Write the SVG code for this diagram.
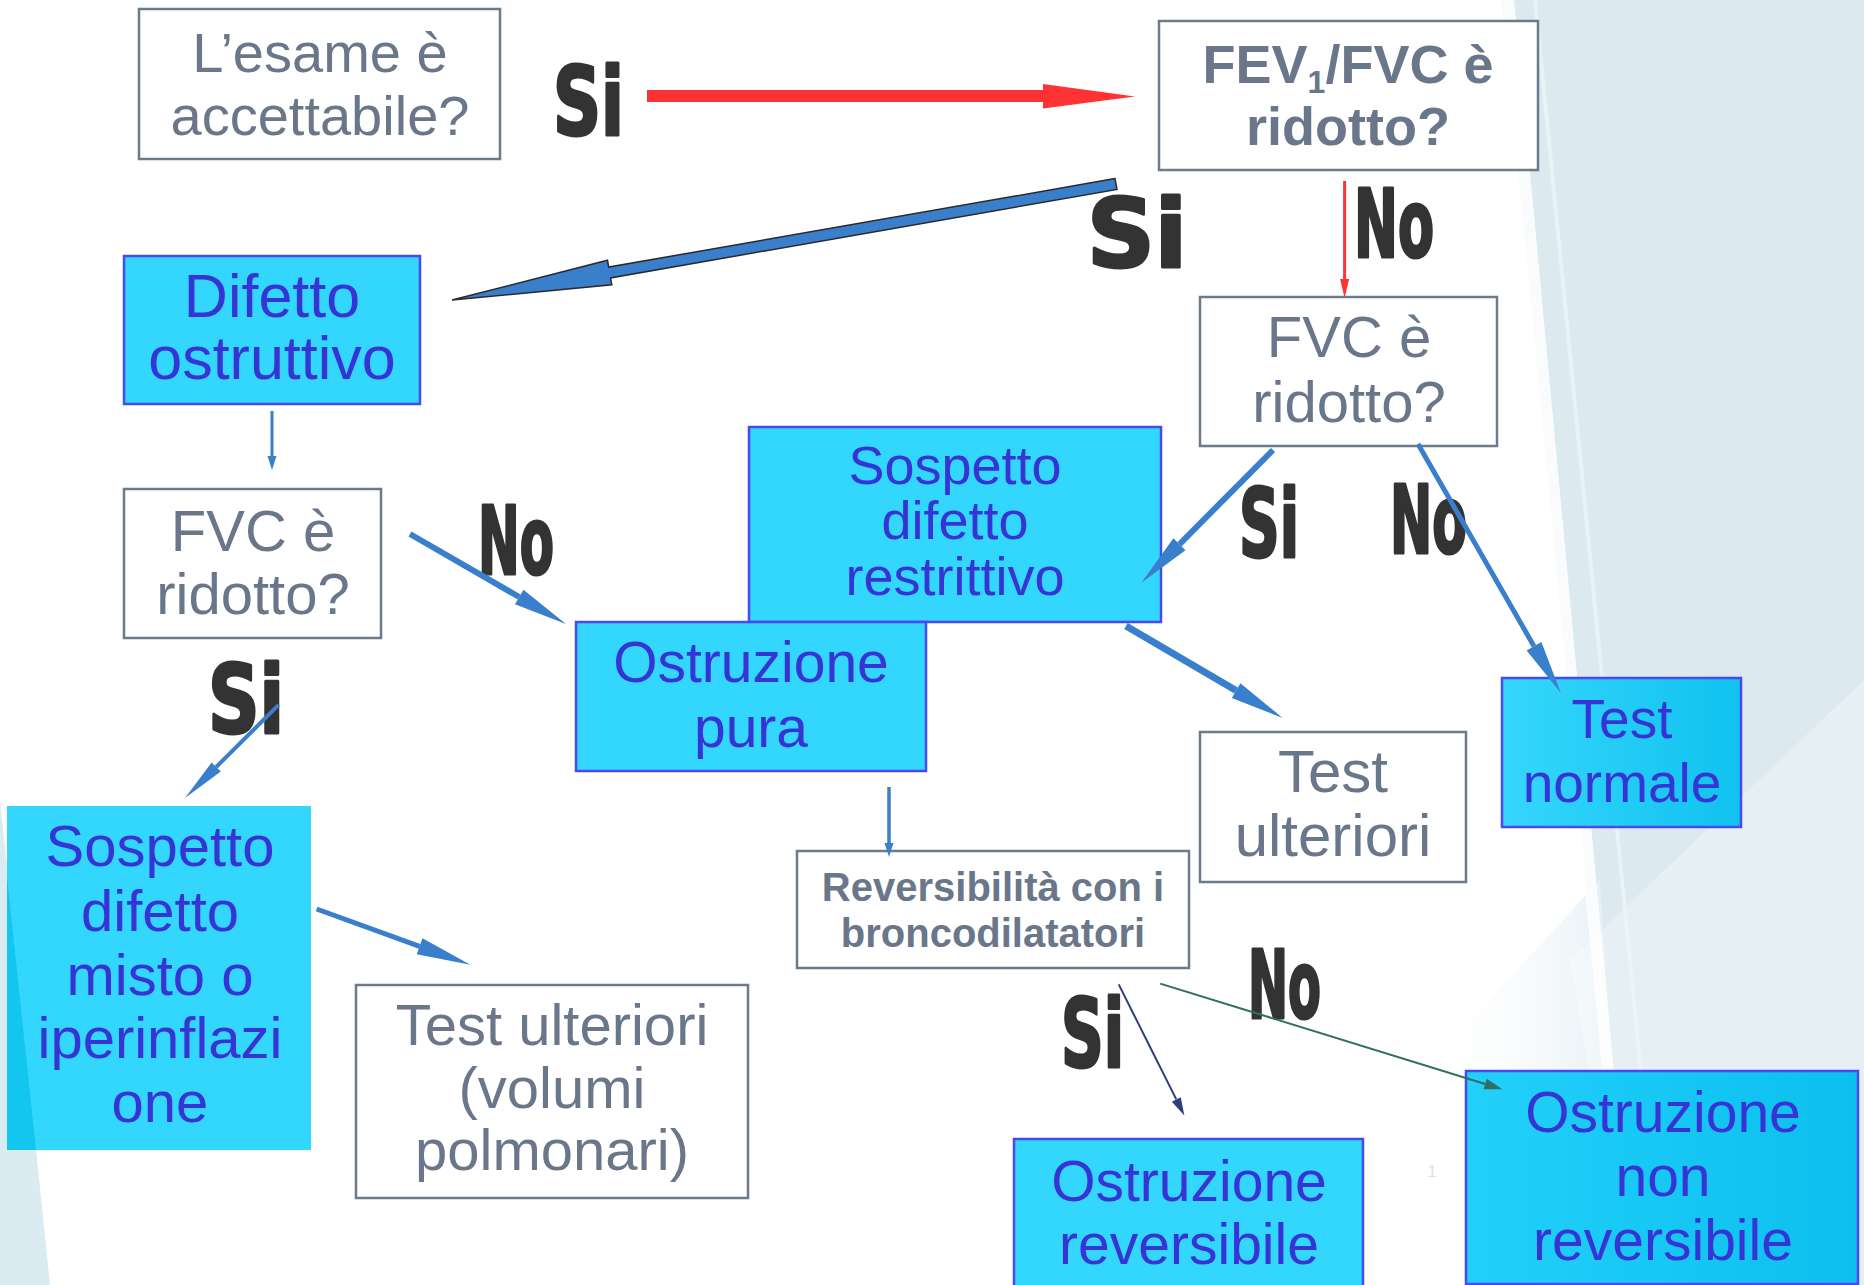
<svg xmlns="http://www.w3.org/2000/svg" width="1864" height="1285" viewBox="0 0 1864 1285">
<defs>
<style>
.box-g{fill:#ffffff;stroke:#6d7a8c;stroke-width:2.5}
.box-c{fill:#33d6fc;stroke:#4a48f0;stroke-width:2.5}
.t-g{font-family:"Liberation Sans",Arial,sans-serif;fill:#6a7689;text-anchor:middle}
.t-c{font-family:"Liberation Sans",Arial,sans-serif;fill:#3734d6;text-anchor:middle}
.lbl{font-family:"Liberation Sans Narrow","DejaVu Sans Condensed","Liberation Sans",sans-serif;font-weight:bold;font-size:95px;fill:#333333;stroke:#333333;stroke-width:3;stroke-linejoin:round}
.ln-b{fill:none;stroke:#3a7fcc}
</style>
<linearGradient id="gR" x1="0" y1="0" x2="1" y2="0">
<stop offset="0" stop-color="#36d6fd"/>
<stop offset="1" stop-color="#10c2ee"/>
</linearGradient>
<linearGradient id="gR2" x1="0" y1="0" x2="1" y2="0">
<stop offset="0" stop-color="#22d0fa"/>
<stop offset="1" stop-color="#0cbfee"/>
</linearGradient>
<linearGradient id="gPale" x1="0" y1="0" x2="1" y2="0">
<stop offset="0" stop-color="#ffffff" stop-opacity="0"/>
<stop offset="1" stop-color="#e4eff4"/>
</linearGradient>
<marker id="mBig" markerUnits="userSpaceOnUse" markerWidth="54" markerHeight="17" refX="0" refY="8.5" orient="auto" overflow="visible">
<path d="M0,0 L54,8.5 L0,17 Z" fill="#3a7fcc"/>
</marker>
<marker id="mMid" markerUnits="userSpaceOnUse" markerWidth="44" markerHeight="13" refX="0" refY="6.5" orient="auto" overflow="visible">
<path d="M0,0 L44,6.5 L0,13 Z" fill="#3a7fcc"/>
</marker>
<marker id="mSmall" markerUnits="userSpaceOnUse" markerWidth="14" markerHeight="9" refX="0" refY="4.5" orient="auto" overflow="visible">
<path d="M0,0 L14,4.5 L0,9 Z" fill="#3a7fcc"/>
</marker>
<marker id="mRed" markerUnits="userSpaceOnUse" markerWidth="19" markerHeight="9" refX="0" refY="4.5" orient="auto" overflow="visible">
<path d="M0,0 L19,4.5 L0,9 Z" fill="#ff3333"/>
</marker>
<marker id="mNavy" markerUnits="userSpaceOnUse" markerWidth="18" markerHeight="10" refX="0" refY="5" orient="auto" overflow="visible">
<path d="M0,0 L18,5 L0,10 Z" fill="#2e3f80"/>
</marker>
<marker id="mTeal" markerUnits="userSpaceOnUse" markerWidth="18" markerHeight="11" refX="0" refY="5.5" orient="auto" overflow="visible">
<path d="M0,0 L18,5.5 L0,11 Z" fill="#2f6f66"/>
</marker>
</defs>

<rect x="0" y="0" width="1864" height="1285" fill="#ffffff"/>
<g id="background">
<polygon points="1502,0 1864,0 1864,1285 1625,1285" fill="#dce9ee"/>
<polygon points="1420,1075 1600,880 1625,1285 1420,1285" fill="url(#gPale)"/>
<polygon points="1570,960 1864,680 1864,1285 1625,1285" fill="#ffffff" opacity="0.3"/>
<line x1="1508" y1="0" x2="1628" y2="1285" stroke="#ffffff" stroke-width="12" opacity="0.85"/>
<line x1="1535" y1="0" x2="1662" y2="1285" stroke="#f3f8fa" stroke-width="4" opacity="0.6"/>
<polygon points="0,800 50,1285 0,1285" fill="#dbebf2"/>
</g>

<g id="node-esame">
<rect class="box-g" x="139" y="9" width="361" height="150"/>
<text class="t-g" font-size="56" x="320" y="72">L’esame è</text>
<text class="t-g" font-size="56" x="320" y="135">accettabile?</text>
</g>

<g id="node-fev">
<rect class="box-g" x="1159" y="21" width="379" height="149"/>
<text class="t-g" font-size="54" font-weight="bold" x="1348" y="83">FEV<tspan font-size="32" dy="10">1</tspan><tspan dy="-10">/FVC è</tspan></text>
<text class="t-g" font-size="54" font-weight="bold" x="1348" y="145">ridotto?</text>
</g>

<g id="node-difetto-ostruttivo">
<rect class="box-c" x="124" y="256" width="296" height="148"/>
<text class="t-c" font-size="61" x="272" y="317">Difetto</text>
<text class="t-c" font-size="61" x="272" y="379">ostruttivo</text>
</g>

<g id="node-fvc-right">
<rect class="box-g" x="1200" y="297" width="297" height="149"/>
<text class="t-g" font-size="58" x="1349" y="357">FVC è</text>
<text class="t-g" font-size="58" x="1349" y="422">ridotto?</text>
</g>

<g id="node-fvc-left">
<rect class="box-g" x="124" y="489" width="257" height="149"/>
<text class="t-g" font-size="58" x="253" y="551">FVC è</text>
<text class="t-g" font-size="58" x="253" y="614">ridotto?</text>
</g>

<g id="node-sospetto-restrittivo">
<rect class="box-c" x="749" y="427" width="412" height="195" stroke="#6a5cf0"/>
<text class="t-c" font-size="54" x="955" y="484">Sospetto</text>
<text class="t-c" font-size="54" x="955" y="539">difetto</text>
<text class="t-c" font-size="54" x="955" y="595">restrittivo</text>
</g>

<g id="node-ostruzione-pura">
<rect class="box-c" x="576" y="622" width="350" height="149" stroke="#6a5cf0"/>
<text class="t-c" font-size="57" x="751" y="682">Ostruzione</text>
<text class="t-c" font-size="57" x="751" y="747">pura</text>
</g>

<g id="node-sospetto-misto">
<rect x="7" y="806" width="304" height="344" fill="#33d6fc"/>
<polygon points="7,877 36,1150 7,1150" fill="#12c6f0"/>
<text class="t-c" font-size="58" x="160" y="866">Sospetto</text>
<text class="t-c" font-size="58" x="160" y="931">difetto</text>
<text class="t-c" font-size="58" x="160" y="995">misto o</text>
<text class="t-c" font-size="58" x="160" y="1058">iperinflazi</text>
<text class="t-c" font-size="58" x="160" y="1122">one</text>
</g>

<g id="node-test-volumi">
<rect class="box-g" x="356" y="985" width="392" height="213"/>
<text class="t-g" font-size="58" x="552" y="1045">Test ulteriori</text>
<text class="t-g" font-size="58" x="552" y="1108">(volumi</text>
<text class="t-g" font-size="58" x="552" y="1170">polmonari)</text>
</g>

<g id="node-reversibilita">
<rect class="box-g" x="797" y="851" width="392" height="117"/>
<text class="t-g" font-size="40" font-weight="bold" x="993" y="901">Reversibilità con i</text>
<text class="t-g" font-size="40" font-weight="bold" x="993" y="947">broncodilatatori</text>
</g>

<g id="node-test-ulteriori">
<rect class="box-g" x="1200" y="732" width="266" height="150"/>
<text class="t-g" font-size="60" x="1333" y="792">Test</text>
<text class="t-g" font-size="60" x="1333" y="856">ulteriori</text>
</g>

<g id="node-test-normale">
<rect x="1502" y="678" width="239" height="149" fill="url(#gR)" stroke="#4a48f0" stroke-width="2.5"/>
<text class="t-c" font-size="55" x="1622" y="738">Test</text>
<text class="t-c" font-size="55" x="1622" y="802">normale</text>
</g>

<g id="node-ostruzione-reversibile">
<rect class="box-c" x="1014" y="1139" width="349" height="160"/>
<text class="t-c" font-size="57" x="1189" y="1201">Ostruzione</text>
<text class="t-c" font-size="57" x="1189" y="1264">reversibile</text>
</g>

<g id="node-ostruzione-non-reversibile">
<rect x="1466" y="1071" width="392" height="213" fill="url(#gR2)" stroke="#4a48f0" stroke-width="2.5"/>
<text class="t-c" font-size="57" x="1663" y="1132">Ostruzione</text>
<text class="t-c" font-size="57" x="1663" y="1196">non</text>
<text class="t-c" font-size="57" x="1663" y="1260">reversibile</text>
</g>

<g id="labels">
<text class="lbl" x="553" y="135" textLength="71" lengthAdjust="spacingAndGlyphs">Si</text>
<text class="lbl" x="1087" y="267" textLength="100" lengthAdjust="spacingAndGlyphs">Si</text>
<text class="lbl" x="1354" y="257" textLength="80" lengthAdjust="spacingAndGlyphs">No</text>
<text class="lbl" x="1239" y="557" textLength="60" lengthAdjust="spacingAndGlyphs">Si</text>
<text class="lbl" x="1390" y="553" textLength="77" lengthAdjust="spacingAndGlyphs">No</text>
<text class="lbl" x="478" y="574" textLength="76" lengthAdjust="spacingAndGlyphs">No</text>
<text class="lbl" x="208" y="733" textLength="76" lengthAdjust="spacingAndGlyphs">Si</text>
<text class="lbl" x="1061" y="1067" textLength="63" lengthAdjust="spacingAndGlyphs">Si</text>
<text class="lbl" x="1248" y="1018" textLength="73" lengthAdjust="spacingAndGlyphs">No</text>
<text x="1432" y="1177" font-family="Liberation Sans,sans-serif" font-size="16" fill="#d3e4ec" text-anchor="middle">1</text>
</g>

<g id="connectors">
<polygon points="647,90 1043,90 1043,84 1135,96.5 1043,108.5 1043,102 647,102" fill="#ff3333"/>
<polygon points="1115,178.6 608.7,267.1 607.5,260.2 452,300 611.8,284.8 610.5,277.9 1117,189.4" fill="#3a7fcc" stroke="#2a2a2a" stroke-width="1.5" stroke-linejoin="miter"/>
<line x1="1344.6" y1="181" x2="1344.6" y2="279" stroke="#ff3333" stroke-width="3" marker-end="url(#mRed)"/>
<line class="ln-b" x1="272" y1="411" x2="272" y2="456" stroke-width="3" marker-end="url(#mSmall)"/>
<line class="ln-b" x1="410" y1="534" x2="519.2" y2="597" stroke-width="6" marker-end="url(#mBig)"/>
<line class="ln-b" x1="278.6" y1="704.8" x2="216.2" y2="767" stroke-width="4" marker-end="url(#mMid)"/>
<line class="ln-b" x1="316.6" y1="909" x2="419.6" y2="946.3" stroke-width="5" marker-end="url(#mBig)"/>
<line class="ln-b" x1="889" y1="787" x2="889" y2="843" stroke-width="3.5" marker-end="url(#mSmall)"/>
<line class="ln-b" x1="1273" y1="450" x2="1179.4" y2="544.3" stroke-width="6" marker-end="url(#mBig)"/>
<line class="ln-b" x1="1418" y1="444" x2="1534" y2="646.2" stroke-width="5" marker-end="url(#mBig)"/>
<line class="ln-b" x1="1126" y1="626" x2="1236.1" y2="690.6" stroke-width="7" marker-end="url(#mBig)"/>
<line x1="1118.7" y1="984.4" x2="1176.3" y2="1099.4" stroke="#2e3f80" stroke-width="2" marker-end="url(#mNavy)"/>
<line x1="1160.2" y1="983.6" x2="1485.2" y2="1084" stroke="#2f6f66" stroke-width="2" marker-end="url(#mTeal)"/>
</g>
</svg>
